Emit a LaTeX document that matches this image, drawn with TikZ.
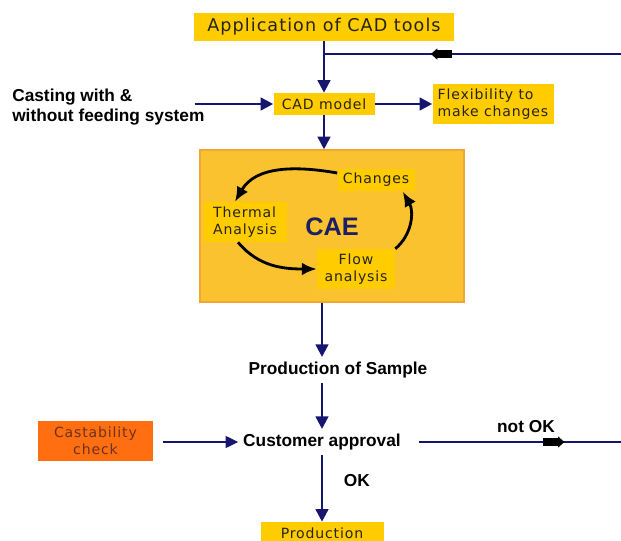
\documentclass[tikz,border=0pt]{standalone}
\usepackage{fontspec}
\setmainfont{Liberation Sans}
\newfontfamily\comic[LetterSpace=6]{DejaVu Sans}
\usetikzlibrary{arrows.meta, calc, positioning, decorations.markings}
\definecolor{boxyellow}{RGB}{255,204,0}
\definecolor{caefill}{RGB}{250,194,46}
\definecolor{caeborder}{RGB}{240,168,50}
\definecolor{caeblue}{RGB}{30,30,100}
\definecolor{navy}{RGB}{22,22,110}
\definecolor{castorange}{RGB}{255,110,16}
\definecolor{castbrown}{RGB}{110,50,30}
\definecolor{boxtext}{RGB}{40,35,25}
\tikzstyle{box} = [rectangle, text centered, fill=boxyellow, text=boxtext,
	font=\comic\fontsize{10}{12}\selectfont]
\tikzstyle{flowtext} = [text=black, font=\bfseries\fontsize{12.3}{14.2}\selectfont]
\tikzstyle{arrow} = [-{Triangle[length=9pt,width=9pt]}, line width=1.8pt, draw=navy]
\tikzstyle{thinarrow} = [-{Triangle[length=9pt,width=8.5pt]}, line width=1.1pt, draw=navy]
\tikzstyle{feedline} = [line width=1.1pt, draw=navy]
\tikzstyle{caearrow} = [-{Latex[length=10.5pt,width=9pt]}, line width=2pt, black]
\newcommand{\blockhead}{\fill[black] (-15pt,-3pt) rectangle (-4pt,3pt);
	\fill[black] (-4.5pt,-4pt) -- (0pt,0pt) -- (-4.5pt,4pt) -- cycle;}
\tikzset{feedmark/.style={postaction={decorate},
	decoration={markings, mark=at position #1 with {\blockhead}}}}

\begin{document}
\begin{tikzpicture}
	\useasboundingbox (0,0) rectangle (15.525,13.5);

	% set up nodes
	\node (app) [box, minimum width=6.5cm, minimum height=0.7cm, font=\comic\fontsize{12.5}{14}\selectfont] at (8.1,12.825) {Application of CAD tools};
	\node (cad) [box, minimum width=2.525cm, minimum height=0.55cm] at (8.1,10.9) {CAD model};
	\node (flex) [box, minimum width=3.025cm, minimum height=1cm, align=left] at (12.325,10.9) {Flexibility to\\make changes};
	\node (casting) [flowtext, anchor=west, align=left, inner sep=0pt] at (0.3,10.825) {Casting with \&\\without feeding system};

	\node (cae) [rectangle, fill=caefill, draw=caeborder, line width=1pt, minimum width=6.6cm, minimum height=3.8cm] at (8.3,7.85) {};
	\node (caetext) [text=caeblue, font=\bfseries\fontsize{18}{20}\selectfont] at (8.3,7.825) {CAE};
	\node (changes) [box, minimum width=1.925cm, minimum height=0.525cm] at (9.4,9.0) {Changes};
	\node (thermal) [box, minimum width=2.075cm, minimum height=1cm, align=left] at (6.125,7.95) {Thermal\\Analysis};
	\node (flow) [box, minimum width=1.95cm, minimum height=0.85cm, align=center] at (8.9,6.775) {Flow\\analysis};

	\node (sample) [flowtext] at (8.45,4.25) {Production of Sample};
	\node (cust) [flowtext] at (8.05,2.45) {Customer approval};
	\node (castab) [rectangle, fill=castorange, text=castbrown, font=\comic\fontsize{10}{12}\selectfont, minimum width=2.875cm, minimum height=1cm, align=center] at (2.3875,2.475) {Castability\\check};
	\node (prod) [box, minimum width=3.075cm, minimum height=0.55cm] at (8.05,0.175) {Production};

	\coordinate (fbR) at (15.525,12.15);
	\coordinate (nokR) at (15.525,2.45);

	% set up connections
	\draw [arrow] (app.south) -- (cad.north);
	\draw [feedline, feedmark=0.64] (fbR) -- (fbR -| app.south);
	\draw [arrow] ([xshift=-0.25cm]casting.east |- cad.west) -- (cad.west);
	\draw [arrow] (cad.east) -- (flex.west);
	\draw [arrow] (cad.south) -- (cad.south |- cae.north);

	\draw [caearrow] ([yshift=0.175cm]changes.west) to[out=170, in=60] ([xshift=-0.25cm]thermal.north);
	\draw [caearrow] ([xshift=-0.175cm]thermal.south) to[out=-50, in=180] (flow.west);
	\draw [caearrow] (flow.north east) to[out=40, in=-60] ([xshift=-0.3cm]changes.south east);

	\draw [arrow] (cae.south -| cust.north) -- (sample.north -| cust.north);
	\draw [arrow] (sample.south -| cust.north) -- (cust.north);
	\draw [thinarrow] ([xshift=0.25cm]castab.east |- cust.west) -- (cust.west);
	\draw [feedline, feedmark=0.72] ([xshift=0.325cm]cust.east) -- (nokR) node[flowtext, pos=0.53, above, yshift=0.1cm] {not OK};
	\draw [arrow] (cust.south) -- (prod.north) node[flowtext, midway, right, xshift=0.4cm, yshift=0.2cm] {OK};

\end{tikzpicture}
\end{document}
